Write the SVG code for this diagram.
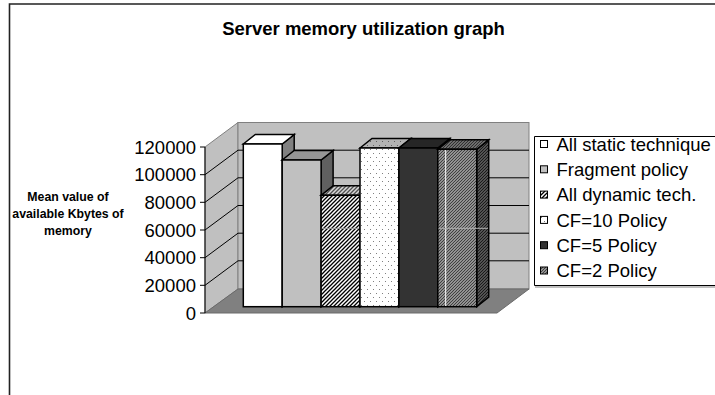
<svg xmlns="http://www.w3.org/2000/svg" width="715" height="395" viewBox="0 0 715 395">
  <style>
    .title { font-family: "Liberation Sans", Arial, sans-serif; font-size: 18.5px; font-weight: bold; fill: #000; }
    .ytitle { font-family: "Liberation Sans", Arial, sans-serif; font-size: 12.3px; font-weight: bold; fill: #000; }
    .tick { font-family: "Liberation Sans", Arial, sans-serif; font-size: 18.5px; fill: #000; }
    .leg { font-family: "Liberation Sans", Arial, sans-serif; font-size: 18.5px; fill: #000; }
    .wall { fill: #C0C0C0; stroke: #808080; stroke-width: 1; }
    .floor { fill: #808080; stroke: #6a6a6a; stroke-width: 1; }
    .grid { fill: none; stroke: #000; stroke-width: 1; }
    .bar { stroke: #000; stroke-width: 1.5; stroke-linejoin: miter; }
    .sw { stroke: #000; stroke-width: 1; }
  </style>
  <defs>
    <!-- wide diagonal hatch -->
    <pattern id="hatch" patternUnits="userSpaceOnUse" width="4" height="4">
      <rect width="4" height="4" fill="#fff"/>
      <path d="M-1,1 L1,-1 M0,4 L4,0 M3,5 L5,3" stroke="#000" stroke-width="1.3"/>
    </pattern>
    <pattern id="hatchTop" patternUnits="userSpaceOnUse" width="4" height="4">
      <rect width="4" height="4" fill="#d8d8d8"/>
      <path d="M-1,1 L1,-1 M0,4 L4,0 M3,5 L5,3" stroke="#505050" stroke-width="1.3"/>
    </pattern>
    <pattern id="hatchSide" patternUnits="userSpaceOnUse" width="4" height="4">
      <rect width="4" height="4" fill="#909090"/>
      <path d="M-1,1 L1,-1 M0,4 L4,0 M3,5 L5,3" stroke="#000" stroke-width="1.3"/>
    </pattern>
    <!-- sparse dots -->
    <pattern id="dots" patternUnits="userSpaceOnUse" width="6" height="8">
      <rect width="6" height="8" fill="#fff"/>
      <rect x="1" y="1" width="1" height="1" fill="#808080"/>
      <rect x="4" y="5" width="1" height="1" fill="#808080"/>
    </pattern>
    <pattern id="dotsTop" patternUnits="userSpaceOnUse" width="6" height="8">
      <rect width="6" height="8" fill="#b4b4b4"/>
      <rect x="1" y="1" width="1" height="1" fill="#606060"/>
      <rect x="4" y="5" width="1" height="1" fill="#606060"/>
    </pattern>
    <!-- fine diagonal -->
    <pattern id="fine" patternUnits="userSpaceOnUse" width="3" height="3">
      <rect width="3" height="3" fill="#d4d4d4"/>
      <path d="M-1,1 L1,-1 M0,3 L3,0 M2,4 L4,2" stroke="#404040" stroke-width="1.3"/>
    </pattern>
    <pattern id="fineTop" patternUnits="userSpaceOnUse" width="3" height="3">
      <rect width="3" height="3" fill="#a0a0a0"/>
      <path d="M-1,1 L1,-1 M0,3 L3,0 M2,4 L4,2" stroke="#303030" stroke-width="1.3"/>
    </pattern>
    <pattern id="fineSide" patternUnits="userSpaceOnUse" width="3" height="3">
      <rect width="3" height="3" fill="#808080"/>
      <path d="M-1,1 L1,-1 M0,3 L3,0 M2,4 L4,2" stroke="#1a1a1a" stroke-width="1.3"/>
    </pattern>
  </defs>

  <rect width="715" height="395" fill="#fff"/>

  <!-- outer chart frame -->
  <path d="M9.5,395 L9.5,4 L715,4" fill="none" stroke="#222" stroke-width="1.6"/>

  <text class="title" x="363.5" y="35" text-anchor="middle">Server memory utilization graph</text>

  <g id="y-title">
    <text class="ytitle" x="68" y="201" text-anchor="middle">Mean value of</text>
    <text class="ytitle" x="68" y="218" text-anchor="middle">available Kbytes of</text>
    <text class="ytitle" x="68" y="235" text-anchor="middle">memory</text>
  </g>

  <!-- plot box: walls and floor -->
  <g id="walls">
    <polygon class="wall" points="205,147 238,122.5 238,289 205,313"/>
    <rect class="wall" x="238" y="122.5" width="291" height="166.5"/>
    <polygon class="floor" points="205,313 238,289 529,289 497,313"/>
  </g>

  <!-- gridlines across left and back walls -->
  <g id="gridlines">
    <polyline class="grid" points="205,285.3 238,260.8 529,260.8"/>
    <polyline class="grid" points="205,257.7 238,233.2 529,233.2"/>
    <polyline class="grid" points="205,230 238,205.5 529,205.5"/>
    <polyline class="grid" points="205,202.3 238,177.8 529,177.8"/>
    <polyline class="grid" points="205,174.7 238,150.2 529,150.2"/>
  </g>

  <!-- value axis -->
  <g id="y-axis">
    <line x1="205" y1="147" x2="205" y2="313" stroke="#000" stroke-width="1"/>
    <path d="M200,313H205 M200,285.3H205 M200,257.7H205 M200,230H205 M200,202.3H205 M200,174.7H205 M200,147H205" stroke="#000" stroke-width="1"/>
    <text class="tick" x="196" y="319.6" text-anchor="end">0</text>
    <text class="tick" x="196" y="291.9" text-anchor="end">20000</text>
    <text class="tick" x="196" y="264.3" text-anchor="end">40000</text>
    <text class="tick" x="196" y="236.6" text-anchor="end">60000</text>
    <text class="tick" x="196" y="208.9" text-anchor="end">80000</text>
    <text class="tick" x="196" y="181.3" text-anchor="end">100000</text>
    <text class="tick" x="196" y="153.6" text-anchor="end">120000</text>
  </g>

  <!-- bars, left to right: front, top, right side -->
  <g id="bar-all-static">
    <polygon class="bar" fill="#808080" points="282.2,144 294.2,134.5 294.2,297.2 282.2,306.7"/>
    <polygon class="bar" fill="#fff" points="243.3,144 255.3,134.5 294.2,134.5 282.2,144"/>
    <rect class="bar" fill="#fff" x="243.3" y="144" width="38.9" height="162.7"/>
  </g>
  <g id="bar-fragment">
    <polygon class="bar" fill="#606060" points="321.1,160 333.1,150.5 333.1,297.2 321.1,306.7"/>
    <polygon class="bar" fill="#969696" points="282.2,160 294.2,150.5 333.1,150.5 321.1,160"/>
    <rect class="bar" fill="#C0C0C0" x="282.2" y="160" width="38.9" height="146.7"/>
  </g>
  <g id="bar-all-dynamic">
    <polygon class="bar" fill="url(#hatchSide)" points="360,195.3 372,185.8 372,297.2 360,306.7"/>
    <polygon class="bar" fill="url(#hatchTop)" points="321.1,195.3 333.1,185.8 372,185.8 360,195.3"/>
    <rect class="bar" fill="url(#hatch)" x="321.1" y="195.3" width="38.9" height="111.4"/>
    <line x1="322" y1="228.3" x2="359.2" y2="228.3" stroke="#a0a0a0" stroke-width="1"/>
  </g>
  <g id="bar-cf10">
    <polygon class="bar" fill="#909090" points="398.9,148 410.9,138.5 410.9,297.2 398.9,306.7"/>
    <polygon class="bar" fill="url(#dotsTop)" points="360,148 372,138.5 410.9,138.5 398.9,148"/>
    <rect class="bar" fill="url(#dots)" x="360" y="148" width="38.9" height="158.7"/>
  </g>
  <g id="bar-cf5">
    <polygon class="bar" fill="#1a1a1a" points="437.8,148 449.8,138.5 449.8,297.2 437.8,306.7"/>
    <polygon class="bar" fill="#262626" points="398.9,148 410.9,138.5 449.8,138.5 437.8,148"/>
    <rect class="bar" fill="#333333" x="398.9" y="148" width="38.9" height="158.7"/>
  </g>
  <g id="bar-cf2">
    <polygon class="bar" fill="url(#fineSide)" points="476.7,149.3 488.7,139.8 488.7,297.2 476.7,306.7"/>
    <polygon class="bar" fill="url(#fineTop)" points="437.8,149.3 449.8,139.8 488.7,139.8 476.7,149.3"/>
    <rect class="bar" fill="url(#fine)" x="437.8" y="149.3" width="38.9" height="157.4"/>
    <line x1="445.7" y1="150" x2="445.7" y2="306" stroke="#fff" stroke-width="1"/>
    <line x1="438.6" y1="228.3" x2="488" y2="228.3" stroke="#b0b0b0" stroke-width="1"/>
  </g>

  <!-- legend -->
  <g id="legend">
    <path d="M720,136.5 H534.5 V285.5 H720" fill="#fff" stroke="#000" stroke-width="1"/>
    <line x1="535" y1="287" x2="715" y2="287" stroke="#808080" stroke-width="1.2"/>
    <rect class="sw" x="540.5" y="140.5" width="7" height="7" fill="#fff"/>
    <text class="leg" x="556.5" y="150.7">All static technique</text>
    <rect class="sw" x="540.5" y="165.8" width="7" height="7" fill="#C0C0C0"/>
    <text class="leg" x="556.5" y="176">Fragment policy</text>
    <rect class="sw" x="540.5" y="191.1" width="7" height="7" fill="url(#hatch)"/>
    <text class="leg" x="556.5" y="201.3">All dynamic tech.</text>
    <rect class="sw" x="540.5" y="216.4" width="7" height="7" fill="url(#dots)"/>
    <text class="leg" x="556.5" y="226.6">CF=10 Policy</text>
    <rect class="sw" x="540.5" y="241.7" width="7" height="7" fill="#333333"/>
    <text class="leg" x="556.5" y="251.9">CF=5 Policy</text>
    <rect class="sw" x="540.5" y="267" width="7" height="7" fill="url(#fine)"/>
    <text class="leg" x="556.5" y="277.2">CF=2 Policy</text>
  </g>
</svg>
